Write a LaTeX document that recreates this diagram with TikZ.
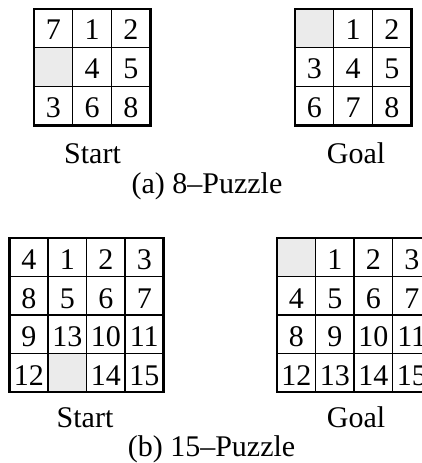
\documentclass[tikz,border=0pt]{standalone}
\usepackage{fontspec}
\setmainfont{Liberation Serif}
\tikzset{
  num/.style={font=\fontsize{30}{30}\selectfont, anchor=base, inner sep=0pt},
  lbl/.style={font=\fontsize{30}{30}\selectfont, anchor=base, inner sep=0pt},
  blank/.style={fill=black!8},
  outerline/.style={draw=black, line width=2.8pt},
  innerline/.style={draw=black, line width=1.3pt},
}
\newcommand\drawpuzzle[6]{% name, x0, y0, n, entries, inner indices
  \foreach \v [count=\k from 0] in {#5} {
    \pgfmathtruncatemacro\rr{\k/#4}
    \pgfmathtruncatemacro\cc{mod(\k,#4)}
    \ifnum\v=0
      \fill[blank] ({#2+\cc*\cs},{#3+\rr*\cs}) rectangle ++(\cs,\cs);
    \else
      \node[num] (#1-\v) at ({#2+(\cc+0.5)*\cs},{#3+(\rr+0.5)*\cs+\off}) {\v};
    \fi
  }
  \foreach \i in {#6} {
    \draw[innerline] ({#2+\i*\cs},{#3}) -- ({#2+\i*\cs},{#3+#4*\cs});
    \draw[innerline] ({#2},{#3+\i*\cs}) -- ({#2+#4*\cs},{#3+\i*\cs});
  }
  \draw[outerline] (#2,#3) rectangle ++({#4*\cs},{#4*\cs});
}
\begin{document}
\begin{tikzpicture}[x=1pt,y=-1pt]
\clip (0,0) rectangle (422,463);
% 8-puzzle
\def\cs{38.7}\def\off{11.5}
\drawpuzzle{sa}{34}{9}{3}{7,1,2,0,4,5,3,6,8}{1,2}
\drawpuzzle{ga}{295}{9}{3}{0,1,2,3,4,5,6,7,8}{1,2}
\node[lbl] (sa-lbl) at (92.5,163) {Start};
\node[lbl] (ga-lbl) at (356,163) {Goal};
\node[lbl] (a-cap) at (207,193) {(a) 8--Puzzle};
% 15-puzzle
\def\cs{38.5}\def\off{12.5}
\drawpuzzle{sb}{9.5}{238}{4}{4,1,2,3,8,5,6,7,9,13,10,11,12,0,14,15}{1,2,3}
\drawpuzzle{gb}{277}{238}{4}{0,1,2,3,4,5,6,7,8,9,10,11,12,13,14,15}{1,2,3}
\node[lbl] (sb-lbl) at (85,427) {Start};
\node[lbl] (gb-lbl) at (356,427) {Goal};
\node[lbl] (b-cap) at (211.5,456) {(b) 15--Puzzle};
\end{tikzpicture}
\end{document}
